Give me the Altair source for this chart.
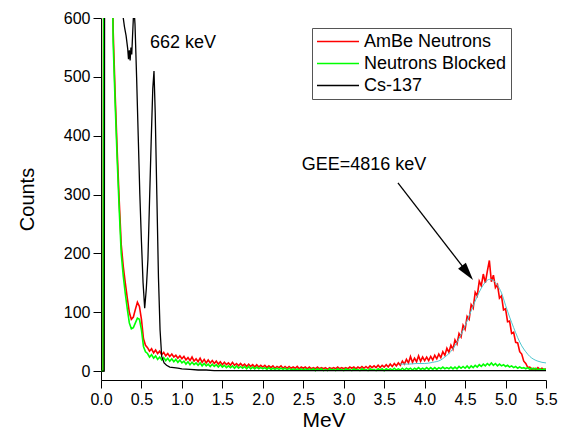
import altair as alt
import pandas as pd
import numpy as np

FONT = "Liberation Sans"

# channel energies (MeV) for the two neutron spectra
energy = np.round(np.arange(221) * 0.025, 3)

red = [
    0, 0, 2000, 2000, 1500, 900, 580, 470, 375, 290,
    215, 178, 150, 124, 100, 88, 92, 105, 117, 110,
    88, 55, 44, 40, 34, 38, 31, 36, 30, 34,
    28, 32, 26, 30, 25, 29, 24, 27, 22, 26,
    21, 25, 19, 23, 18, 24, 17, 21, 16, 22,
    15, 20, 14, 19, 14, 18, 13, 17, 12, 16,
    11, 15, 11, 14, 10, 15, 10, 13, 9, 13,
    9, 12, 8, 12, 8, 11, 7, 11, 7, 10,
    7, 10, 6, 9, 6, 9, 5, 8, 6, 9,
    5, 8, 5, 8, 5, 7, 5, 8, 4, 7,
    5, 7, 4, 7, 4, 6, 4, 7, 4, 6,
    4, 6, 3, 6, 4, 6, 4, 7, 4, 6,
    4, 6, 4, 7, 5, 7, 4, 7, 5, 8,
    5, 8, 5, 9, 6, 9, 6, 10, 6, 10,
    7, 11, 7, 12, 8, 13, 9, 14, 10, 17,
    12, 20, 14, 25, 15, 22, 16, 26, 17, 24,
    18, 24, 18, 25, 19, 27, 21, 29, 23, 33,
    27, 39, 32, 44, 37, 53, 46, 64, 58, 78,
    71, 93, 88, 113, 107, 134, 128, 153, 145, 165,
    150, 170, 188, 152, 163, 142, 147, 124, 128, 104,
    106, 84, 85, 64, 66, 49, 48, 33, 29, 17,
    13, 6, 7, 3, 5, 2, 6, 3, 5, 2,
    4,
]

green = [
    0, 0, 2000, 2000, 1500, 880, 560, 455, 360, 275,
    200, 162, 132, 106, 82, 72, 74, 82, 90, 88,
    70, 42, 33, 30, 24, 28, 22, 26, 20, 24,
    19, 23, 18, 22, 17, 21, 16, 20, 15, 19,
    14, 17, 12, 16, 11, 15, 11, 14, 10, 14,
    9, 13, 9, 12, 8, 12, 8, 11, 7, 11,
    7, 10, 6, 9, 6, 9, 5, 9, 5, 8,
    5, 8, 4, 8, 4, 7, 4, 7, 4, 6,
    4, 6, 3, 6, 3, 5, 3, 5, 3, 5,
    3, 5, 2, 5, 2, 4, 2, 4, 2, 4,
    2, 4, 2, 4, 2, 4, 1, 4, 2, 4,
    1, 3, 1, 4, 2, 3, 1, 4, 2, 3,
    1, 4, 2, 3, 1, 4, 2, 3, 1, 4,
    2, 3, 1, 4, 2, 3, 1, 4, 2, 4,
    1, 4, 2, 4, 2, 5, 2, 4, 2, 5,
    2, 5, 3, 5, 2, 5, 3, 6, 3, 5,
    3, 6, 3, 6, 3, 6, 3, 6, 4, 7,
    4, 6, 4, 7, 4, 7, 4, 8, 5, 8,
    5, 9, 5, 9, 6, 10, 7, 11, 8, 12,
    9, 13, 10, 14, 10, 13, 9, 12, 9, 11,
    8, 10, 7, 9, 6, 8, 5, 7, 5, 6,
    4, 6, 3, 5, 3, 5, 2, 4, 2, 4,
    2,
]

cs_e = [0.0, 0.04, 0.05, 0.10, 0.20, 0.26, 0.275, 0.29, 0.31, 0.33,
        0.34, 0.35, 0.36, 0.37, 0.38, 0.39, 0.40, 0.41, 0.42, 0.44,
        0.46, 0.48, 0.50, 0.52, 0.54, 0.56, 0.58, 0.60, 0.62, 0.64,
        0.655, 0.67, 0.69, 0.71, 0.73, 0.75, 0.78, 0.81, 0.85, 0.90,
        0.95, 1.00, 1.10, 1.20, 1.30, 1.40, 1.60, 2.00, 2.50, 3.00,
        3.50, 4.00, 4.50, 5.00, 5.50]
cs_c = [0, 0, 1500, 2000, 1500, 900, 600, 585, 570, 548,
        530, 545, 528, 550, 538, 570, 600, 612, 590, 500,
        400, 300, 220, 150, 107, 140, 190, 290, 390, 480,
        510, 440, 300, 160, 70, 25, 14, 10, 7, 6,
        5, 4, 3, 2, 2, 1, 1, 1, 1, 1,
        1, 1, 1, 1, 1]

fit_e = [3.70, 3.80, 3.90, 4.00, 4.10, 4.20, 4.25, 4.30, 4.35, 4.40,
         4.45, 4.50, 4.55, 4.60, 4.65, 4.70, 4.75, 4.80, 4.85, 4.90,
         4.95, 5.00, 5.05, 5.10, 5.15, 5.20, 5.25, 5.30, 5.35, 5.40,
         5.45, 5.50]
fit_c = [12, 12, 13, 13, 15, 19, 24, 30, 38, 49,
         62, 77, 94, 111, 127, 141, 151, 156, 154, 146,
         133, 112, 92, 74, 57, 43, 33, 25, 20, 17,
         15, 14]

SERIES = ["AmBe Neutrons", "Neutrons Blocked", "Cs-137"]
COLORS = ["#ff0000", "#00ff00", "#000000"]

ann_e = [0.605, 2.48]
ann_c = [558, 350]
ann_t = ["662 keV", "GEE=4816 keV"]

arrow_e = [3.67, 4.53]
arrow_c = [320, 167]

x_ticks = [round(i * 0.25, 2) for i in range(23)]
y_ticks = [i * 50 for i in range(13)]

df_red = pd.DataFrame({"E": energy, "C": red, "s": SERIES[0]})
df_green = pd.DataFrame({"E": energy, "C": green, "s": SERIES[1]})
df_cs = pd.DataFrame({"E": cs_e, "C": cs_c, "s": SERIES[2]})
df_fit = pd.DataFrame({"E": fit_e, "C": fit_c})
df_ann = pd.DataFrame({"E": ann_e, "C": ann_c, "t": ann_t})
df_arrow = pd.DataFrame({"E": arrow_e, "C": arrow_c, "o": [0, 1]})
df_head = pd.DataFrame({"E": arrow_e[-1:], "C": arrow_c[-1:]})

xscale = alt.Scale(domain=[0, 5.5], nice=False, zero=False)
yscale = alt.Scale(domain=[-15, 600], nice=False, zero=False)
cscale = alt.Scale(domain=SERIES, range=COLORS)

xaxis = alt.Axis(
    values=x_ticks, title="MeV",
    labelExpr="abs(datum.value*2 - round(datum.value*2)) < 0.001 ? format(datum.value, '.1f') : ''",
    tickSize={"condition": {"test": "abs(datum.value*2 - round(datum.value*2)) > 0.001", "value": 4}, "value": 8},
    labelOverlap=False, labelFlush=False, labelPadding=3, titlePadding=2,
    titleFontSize=21,
)
yaxis = alt.Axis(
    values=y_ticks, title="Counts",
    labelExpr="datum.value % 100 === 0 ? datum.label : ''",
    tickSize={"condition": {"test": "datum.value % 100 !== 0", "value": 4}, "value": 8},
    labelOverlap=False, labelFlush=False, labelPadding=3, titlePadding=26,
    titleFontSize=20,
)

legend = alt.Legend(
    orient="none", legendX=211, legendY=10, title=None,
    symbolType="stroke", symbolSize=1764, symbolStrokeWidth=1.5,
    clipHeight=19, labelFont=FONT, labelFontSize=18, labelColor="black",
    labelOffset=4, rowPadding=3, padding=4, strokeColor="#555555",
    fillColor="white", labelLimit=300, cornerRadius=0,
)

def series_layer(df, sw):
    return alt.Chart(df).mark_line(clip=True, strokeWidth=sw).encode(
        x=alt.X("E:Q", scale=xscale, axis=xaxis),
        y=alt.Y("C:Q", scale=yscale, axis=yaxis),
        color=alt.Color("s:N", scale=cscale, legend=legend),
        order=alt.Order("E:Q"),
    )

red_l = series_layer(df_red, 1.6)
green_l = series_layer(df_green, 1.6)
cs_l = series_layer(df_cs, 1.3)

fit_l = alt.Chart(df_fit).mark_line(clip=True, strokeWidth=1, color="#4cc6cf", interpolate="monotone").encode(
    x=alt.X("E:Q", scale=xscale), y=alt.Y("C:Q", scale=yscale)
)

text_l = alt.Chart(df_ann).mark_text(
    align="left", baseline="middle", font=FONT, fontSize=18, color="black"
).encode(x=alt.X("E:Q", scale=xscale), y=alt.Y("C:Q", scale=yscale), text="t:N")

arrow_l = alt.Chart(df_arrow).mark_line(color="black", strokeWidth=1.3).encode(
    x=alt.X("E:Q", scale=xscale), y=alt.Y("C:Q", scale=yscale), order="o:Q"
)
head_l = alt.Chart(df_head).mark_point(
    shape="M0,1L-0.55,-1L0.55,-1Z", size=324, angle=322, filled=True,
    color="black", opacity=1, strokeWidth=0,
).encode(x=alt.X("E:Q", scale=xscale), y=alt.Y("C:Q", scale=yscale))

chart = alt.layer(red_l, green_l, cs_l, fit_l, text_l, arrow_l, head_l).properties(
    width=445, height=362,
    autosize=alt.AutoSizeParams(type="none"),
    padding={"left": 93, "top": 10, "right": 15, "bottom": 51},
).configure_view(stroke=None).configure_axis(
    grid=False, domainColor="black", tickColor="black", labelColor="black",
    titleColor="black", labelFont=FONT, titleFont=FONT, labelFontSize=16,
    titleFontWeight="normal", domainWidth=1, tickWidth=1,
)

chart.save("out.html", embed_options={"renderer": "svg", "actions": False})
